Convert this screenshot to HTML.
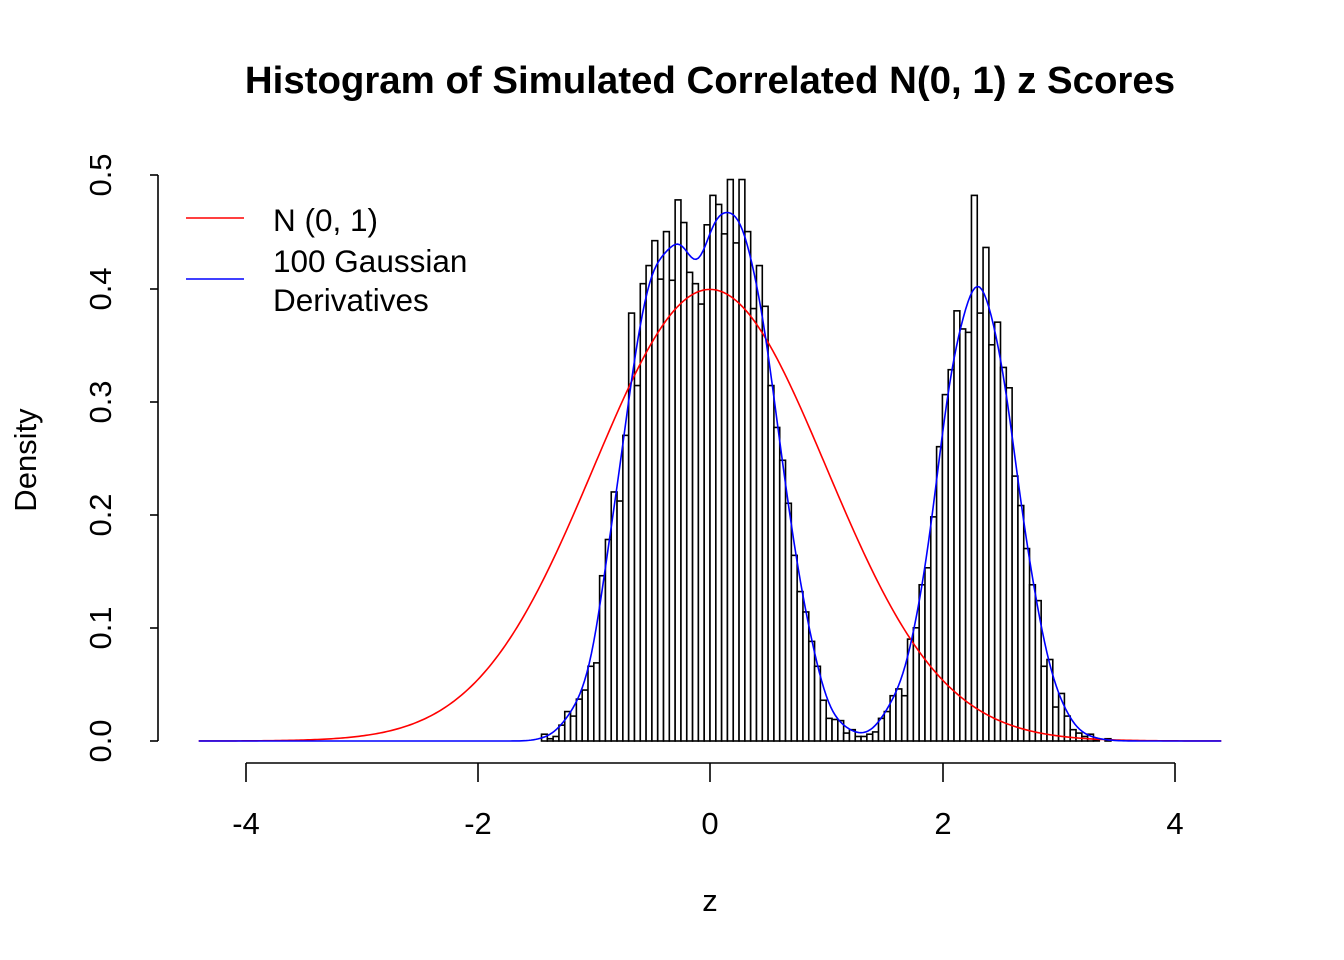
<!DOCTYPE html>
<html><head><meta charset="utf-8"><style>
html,body{margin:0;padding:0;background:#fff;}
svg{display:block;font-family:"Liberation Sans",Arial,sans-serif;}
</style></head><body>
<svg id="s" width="1344" height="960" viewBox="0 0 1344 960" xmlns="http://www.w3.org/2000/svg">
<rect width="1344" height="960" fill="#fff"/>
<text x="710" y="93" font-size="38.4" font-weight="bold" text-anchor="middle">Histogram of Simulated Correlated N(0, 1) z Scores</text>
<g id="bars" fill="#fff" stroke="#000" stroke-width="1.6"></g>
<path id="red" fill="none" stroke="#ff0000" stroke-width="1.6"/>
<path id="blue" fill="none" stroke="#0000ff" stroke-width="1.6"/>
<g stroke="#000" stroke-width="1.6" fill="none">
<line x1="158" y1="175" x2="158" y2="741"/>
<line x1="150" y1="741" x2="158" y2="741"/><line x1="150" y1="628" x2="158" y2="628"/>
<line x1="150" y1="515" x2="158" y2="515"/><line x1="150" y1="402" x2="158" y2="402"/>
<line x1="150" y1="289" x2="158" y2="289"/><line x1="150" y1="175" x2="158" y2="175"/>
<line x1="246" y1="763" x2="1175" y2="763"/>
<line x1="246" y1="763" x2="246" y2="782"/><line x1="478" y1="763" x2="478" y2="782"/>
<line x1="710" y1="763" x2="710" y2="782"/><line x1="943" y1="763" x2="943" y2="782"/>
<line x1="1175" y1="763" x2="1175" y2="782"/>
</g>
<g font-size="31" text-anchor="middle">
<text x="246" y="834">-4</text><text x="478" y="834">-2</text><text x="710" y="834">0</text>
<text x="943" y="834">2</text><text x="1175" y="834">4</text>
<text x="710" y="911">z</text>
<text transform="translate(111,741) rotate(-90)">0.0</text>
<text transform="translate(111,628) rotate(-90)">0.1</text>
<text transform="translate(111,515) rotate(-90)">0.2</text>
<text transform="translate(111,402) rotate(-90)">0.3</text>
<text transform="translate(111,289) rotate(-90)">0.4</text>
<text transform="translate(111,175) rotate(-90)">0.5</text>
<text transform="translate(36,460) rotate(-90)">Density</text>
</g>
<line x1="186" y1="218" x2="244" y2="218" stroke="#ff0000" stroke-width="1.6"/>
<line x1="186" y1="279" x2="244" y2="279" stroke="#0000ff" stroke-width="1.6"/>
<g font-size="31.5">
<text x="273" y="231">N (0, 1)</text>
<text x="273" y="272">100 Gaussian</text>
<text x="273" y="311">Derivatives</text>
</g>
</svg>
<script>
var X=function(v){return 710+v*116.2;}, Y=function(d){return 741-d*1132;};
var h=[0.006,0.002,0.004,0.014,0.026,0.022,0.037,0.045,0.066,0.069,0.146,0.178,0.220,0.212,0.270,0.378,0.314,0.404,0.420,0.442,0.408,0.450,0.407,0.478,0.458,0.414,0.404,0.386,0.456,0.482,0.474,0.448,0.496,0.440,0.496,0.450,0.382,0.420,0.384,0.314,0.277,0.248,0.210,0.164,0.132,0.114,0.088,0.066,0.036,0.020,0.019,0.018,0.007,0.010,0.004,0.004,0.006,0.008,0.020,0.026,0.040,0.046,0.040,0.090,0.100,0.138,0.153,0.198,0.260,0.306,0.328,0.380,0.364,0.361,0.482,0.378,0.436,0.350,0.370,0.330,0.312,0.234,0.208,0.170,0.138,0.124,0.066,0.072,0.030,0.042,0.022,0.010,0.007,0.004,0.006,0.001,0,0.002];
var x0=-1.45,w=0.05,s='';
for(var i=0;i<h.length;i++){var a=X(x0+i*w),b=X(x0+(i+1)*w);if(h[i]<=0)continue;
s+='<rect x="'+a.toFixed(2)+'" y="'+Y(h[i]).toFixed(2)+'" width="'+(b-a).toFixed(2)+'" height="'+(741-Y(h[i])).toFixed(2)+'"/>';}
document.getElementById('bars').innerHTML=s;
var r='',bl='',bw=0.09;
for(var v=-4.4;v<=4.4001;v+=0.02){
 var n=Math.exp(-v*v/2)/Math.sqrt(2*Math.PI);
 r+=(r?'L':'M')+X(v).toFixed(2)+','+Y(n).toFixed(2);
 var d=0;for(var i=0;i<h.length;i++){var c=x0+(i+0.5)*w;var u=(v-c)/bw;d+=h[i]*w*Math.exp(-u*u/2)/(bw*Math.sqrt(2*Math.PI));}
 bl+=(bl?'L':'M')+X(v).toFixed(2)+','+Y(d).toFixed(2);
}
document.getElementById('red').setAttribute('d',r);
document.getElementById('blue').setAttribute('d',bl);
</script>
</body></html>
